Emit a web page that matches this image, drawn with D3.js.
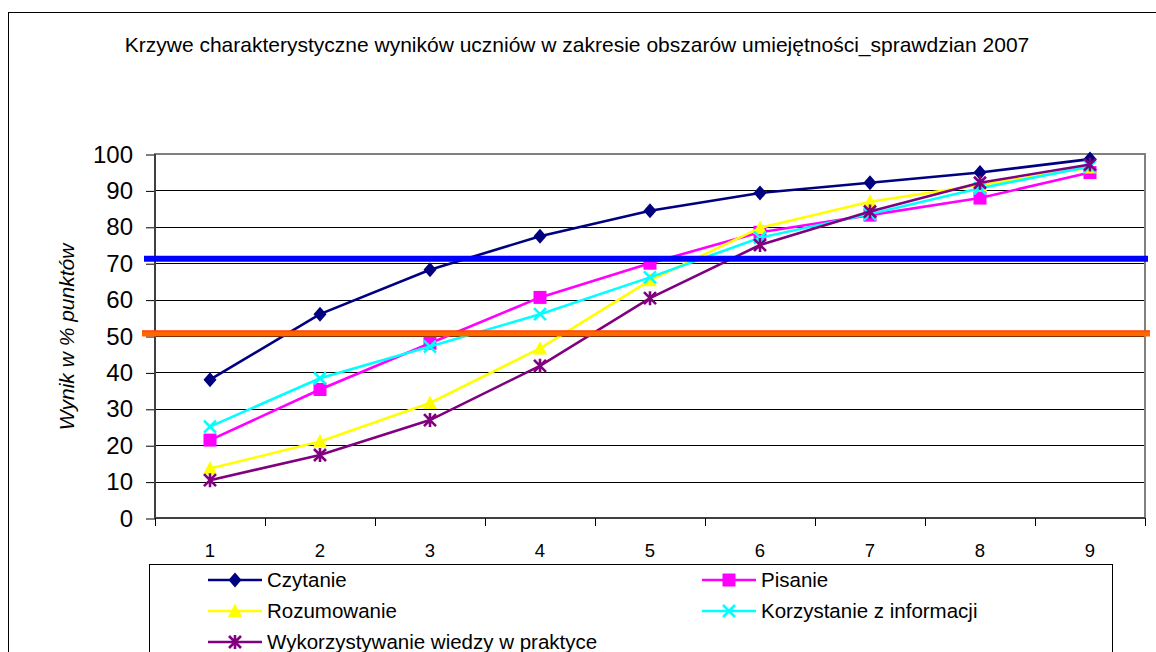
<!DOCTYPE html>
<html>
<head>
<meta charset="utf-8">
<script src="https://cdn.jsdelivr.net/npm/d3@7"></script>
<style>
	body { margin: 0; background: #fff; }
	svg { display: block; font-family: Arial, 'Liberation Sans', sans-serif; }
	.grid line { stroke: #000; stroke-width: 1; }
	.y.axis path, .x.axis path { display: none; }
	.y.axis line { stroke: #000; }
	.y.axis text { font-size: 24px; fill: #000; }
	.x.axis text { font-size: 18.5px; fill: #000; }
	.legend text { font-size: 20.5px; fill: #000; }
</style>
</head>
<body>
<div id="chart"></div>
<script>
var categories = ['1', '2', '3', '4', '5', '6', '7', '8', '9'];
var yTicks = [0, 10, 20, 30, 40, 50, 60, 70, 80, 90, 100];

var czytanie = [38.0, 56.0, 68.2, 77.4, 84.4, 89.3, 92.1, 94.9, 98.6];
var pisanie = [21.4, 35.3, 48.0, 60.6, 70.0, 78.5, 83.2, 87.9, 94.9];
var rozumowanie = [13.6, 21.0, 31.6, 46.6, 65.3, 79.7, 86.9, 91.5, 96.3];
var korzystanie = [25.1, 38.4, 47.1, 56.0, 66.1, 77.0, 83.5, 90.6, 96.6];
var wykorzystywanie = [10.4, 17.3, 26.9, 41.8, 60.4, 75.0, 84.2, 92.1, 97.1];

var seriesNames = ['Czytanie', 'Pisanie', 'Rozumowanie', 'Korzystanie z informacji', 'Wykorzystywanie wiedzy w praktyce'];
var thresholds = [71.2, 50.7];

var title = 'Krzywe charakterystyczne wyników uczniów w zakresie obszarów umiejętności_sprawdzian 2007';
var yAxisLabel = 'Wynik w % punktów';

var series = [
	{ name: seriesNames[0], values: czytanie, color: '#000080', marker: 'diamond' },
	{ name: seriesNames[1], values: pisanie, color: '#FF00FF', marker: 'square' },
	{ name: seriesNames[2], values: rozumowanie, color: '#FFFF00', marker: 'triangle' },
	{ name: seriesNames[3], values: korzystanie, color: '#00FFFF', marker: 'x' },
	{ name: seriesNames[4], values: wykorzystywanie, color: '#800080', marker: 'asterisk' }
];

var width = 1156, height = 652;
var plot = { left: 155, right: 1145, top: 154, bottom: 518 };

var svg = d3.select('#chart').append('svg')
	.attr('width', width)
	.attr('height', height);

// chart border
svg.append('rect')
	.attr('x', 8.5).attr('y', 12.5)
	.attr('width', 1160).attr('height', 700)
	.attr('fill', '#fff')
	.attr('stroke', '#000')
	.attr('stroke-width', 1);

svg.append('text')
	.attr('x', 577).attr('y', 52)
	.attr('text-anchor', 'middle')
	.style('font-size', '21px')
	.text(title);

var x = d3.scaleBand()
	.domain(categories)
	.range([plot.left, plot.right]);

var y = d3.scaleLinear()
	.domain([0, 100])
	.range([plot.bottom, plot.top]);

// gridlines
svg.append('g').attr('class', 'grid')
	.selectAll('line')
	.data(yTicks.filter(function(d) { return d > 0 && d < 100; }))
	.enter().append('line')
	.attr('x1', plot.left).attr('x2', plot.right)
	.attr('y1', function(d) { return Math.round(y(d)) + 0.5; })
	.attr('y2', function(d) { return Math.round(y(d)) + 0.5; });

// plot frame
svg.append('rect')
	.attr('x', plot.left).attr('y', plot.top)
	.attr('width', plot.right - plot.left)
	.attr('height', plot.bottom - plot.top)
	.attr('fill', 'none')
	.attr('stroke', '#808080')
	.attr('stroke-width', 2);

// axes
svg.append('g')
	.attr('class', 'y axis')
	.attr('transform', 'translate(' + plot.left + ',0.5)')
	.call(d3.axisLeft(y).tickValues(yTicks).tickSize(9).tickPadding(13));

svg.append('line')
	.attr('x1', plot.left).attr('x2', plot.left)
	.attr('y1', plot.top).attr('y2', plot.bottom + 1)
	.attr('stroke', '#404040').attr('stroke-width', 2);
svg.append('line')
	.attr('x1', plot.left).attr('x2', plot.right)
	.attr('y1', plot.bottom).attr('y2', plot.bottom)
	.attr('stroke', '#404040').attr('stroke-width', 2);

svg.append('g')
	.attr('class', 'x axis')
	.attr('transform', 'translate(0,' + plot.bottom + ')')
	.call(d3.axisBottom(x).tickSize(0).tickPadding(26));

// category boundary ticks
var edges = categories.map(function(c) { return x(c); }).concat([plot.right]);
svg.append('g').selectAll('line')
	.data(edges)
	.enter().append('line')
	.attr('x1', function(d) { return Math.round(d) + 0.5; })
	.attr('x2', function(d) { return Math.round(d) + 0.5; })
	.attr('y1', plot.bottom).attr('y2', plot.bottom + 8)
	.attr('stroke', '#000');

svg.append('text')
	.attr('transform', 'translate(74,337) rotate(-90)')
	.attr('text-anchor', 'middle')
	.style('font-size', '21px')
	.style('font-style', 'italic')
	.text(yAxisLabel);

function markerPath(type) {
	switch (type) {
		case 'diamond': return 'M0,-7.5L6.5,0L0,7.5L-6.5,0Z';
		case 'square': return 'M-6.5,-6.5H6.5V6.5H-6.5Z';
		case 'triangle': return 'M0,-7.5L7,6L-7,6Z';
		case 'x': return 'M-6,-6L6,6M-6,6L6,-6';
		case 'asterisk': return 'M-6,-6L6,6M-6,6L6,-6M0,-7V7';
	}
}
function isStroked(type) { return type === 'x' || type === 'asterisk'; }

var line = d3.line()
	.x(function(d, i) { return x(categories[i]) + x.bandwidth() / 2; })
	.y(function(d) { return y(d); });

var lines = svg.append('g').attr('class', 'series')
	.selectAll('g')
	.data(series)
	.enter().append('g');

lines.append('path')
	.attr('d', function(d) { return line(d.values); })
	.attr('fill', 'none')
	.attr('stroke', function(d) { return d.color; })
	.attr('stroke-width', 2.6);

lines.each(function(s) {
	d3.select(this).selectAll('path.marker')
		.data(s.values)
		.enter().append('path')
		.attr('class', 'marker')
		.attr('transform', function(d, i) {
			return 'translate(' + (x(categories[i]) + x.bandwidth() / 2) + ',' + y(d) + ')';
		})
		.attr('d', markerPath(s.marker))
		.attr('fill', isStroked(s.marker) ? 'none' : s.color)
		.attr('stroke', s.color)
		.attr('stroke-width', isStroked(s.marker) ? 2.6 : 0);
});

// threshold lines
svg.append('line')
	.attr('x1', plot.left - 11).attr('x2', plot.right + 3)
	.attr('y1', y(thresholds[0])).attr('y2', y(thresholds[0]))
	.attr('stroke', '#0000FF').attr('stroke-width', 6);
svg.append('line')
	.attr('x1', plot.left - 13).attr('x2', plot.right + 5)
	.attr('y1', y(thresholds[1])).attr('y2', y(thresholds[1]))
	.attr('stroke', '#FF6600').attr('stroke-width', 6);
svg.append('line')
	.attr('x1', plot.left - 13).attr('x2', plot.right + 5)
	.attr('y1', y(thresholds[1]) - 2.5).attr('y2', y(thresholds[1]) - 2.5)
	.attr('stroke', '#FF3300').attr('stroke-width', 1);

// legend
svg.append('rect')
	.attr('x', 149.5).attr('y', 564.5)
	.attr('width', 963).attr('height', 120)
	.attr('fill', '#fff')
	.attr('stroke', '#000');

var legendPos = [[208, 580], [702, 580], [208, 611], [702, 611], [208, 642]];

var legend = svg.append('g').attr('class', 'legend')
	.selectAll('g')
	.data(series)
	.enter().append('g')
	.attr('transform', function(d, i) { return 'translate(' + legendPos[i][0] + ',' + legendPos[i][1] + ')'; });

legend.append('line')
	.attr('x1', 0).attr('x2', 54)
	.attr('stroke', function(d) { return d.color; })
	.attr('stroke-width', 2.6);

legend.append('path')
	.attr('transform', 'translate(27,0)')
	.attr('d', function(d) { return markerPath(d.marker); })
	.attr('fill', function(d) { return isStroked(d.marker) ? 'none' : d.color; })
	.attr('stroke', function(d) { return d.color; })
	.attr('stroke-width', function(d) { return isStroked(d.marker) ? 2.6 : 0; });

legend.append('text')
	.attr('x', 59).attr('dy', '0.35em')
	.text(function(d) { return d.name; });
</script>
</body>
</html>
